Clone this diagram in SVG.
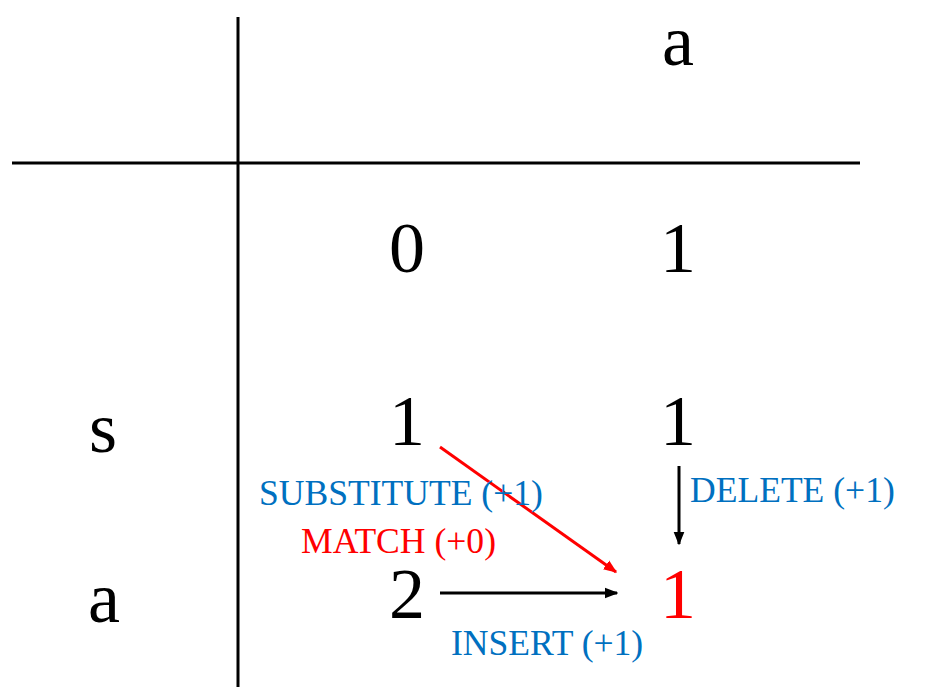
<svg xmlns="http://www.w3.org/2000/svg" width="927" height="699" viewBox="0 0 927 699">
<style>
.big{font-family:"Liberation Serif","Times New Roman",serif;font-size:72px;text-anchor:middle;fill:#000}
.lbl{font-family:"Liberation Serif","Times New Roman",serif;font-size:35.6px;fill:#0070C0}
.grid{stroke:#000;stroke-width:3}
</style>
<defs>
<marker id="ah" viewBox="0 0 10 10" refX="9" refY="5" markerWidth="4.5" markerHeight="4.5" orient="auto" markerUnits="strokeWidth"><path d="M0,1 L10,5 L0,9 Z" fill="#000"/></marker>
<marker id="ahr" viewBox="0 0 10 10" refX="9" refY="5" markerWidth="4.5" markerHeight="4.5" orient="auto" markerUnits="strokeWidth"><path d="M0,1 L10,5 L0,9 Z" fill="#f00"/></marker>
</defs>
<rect width="927" height="699" fill="#fff"/>
<g id="grid-lines">
<line class="grid" x1="238" y1="17" x2="238" y2="687"/>
<line class="grid" x1="12" y1="163" x2="860" y2="163"/>
</g>
<g id="header-a"><text class="big" x="678" y="65">a</text></g>
<g id="row-s"><text class="big" x="103" y="452">s</text></g>
<g id="row-a"><text class="big" x="104" y="622">a</text></g>
<g id="c00"><text class="big" x="407" y="272">0</text></g>
<g id="c01"><text class="big" x="678" y="272">1</text></g>
<g id="c10"><text class="big" x="407" y="445">1</text></g>
<g id="c11"><text class="big" x="678" y="445">1</text></g>
<g id="c20"><text class="big" x="407" y="618">2</text></g>
<g id="c21"><text class="big" x="678" y="618" style="fill:#f00">1</text></g>
<g id="connectors">
<line x1="440" y1="447" x2="616" y2="572" stroke="#f00" stroke-width="3" marker-end="url(#ahr)"/>
<line x1="440" y1="593" x2="617" y2="593" stroke="#000" stroke-width="3" marker-end="url(#ah)"/>
<line x1="679" y1="466" x2="679" y2="544" stroke="#000" stroke-width="3" marker-end="url(#ah)"/>
</g>
<g id="labels">
<text class="lbl" x="259" y="505">SUBSTITUTE (+1)</text>
<text class="lbl" x="301" y="553" style="fill:#f00">MATCH (+0)</text>
<text class="lbl" x="690" y="502">DELETE (+1)</text>
<text class="lbl" x="451" y="655">INSERT (+1)</text>
</g>
</svg>
